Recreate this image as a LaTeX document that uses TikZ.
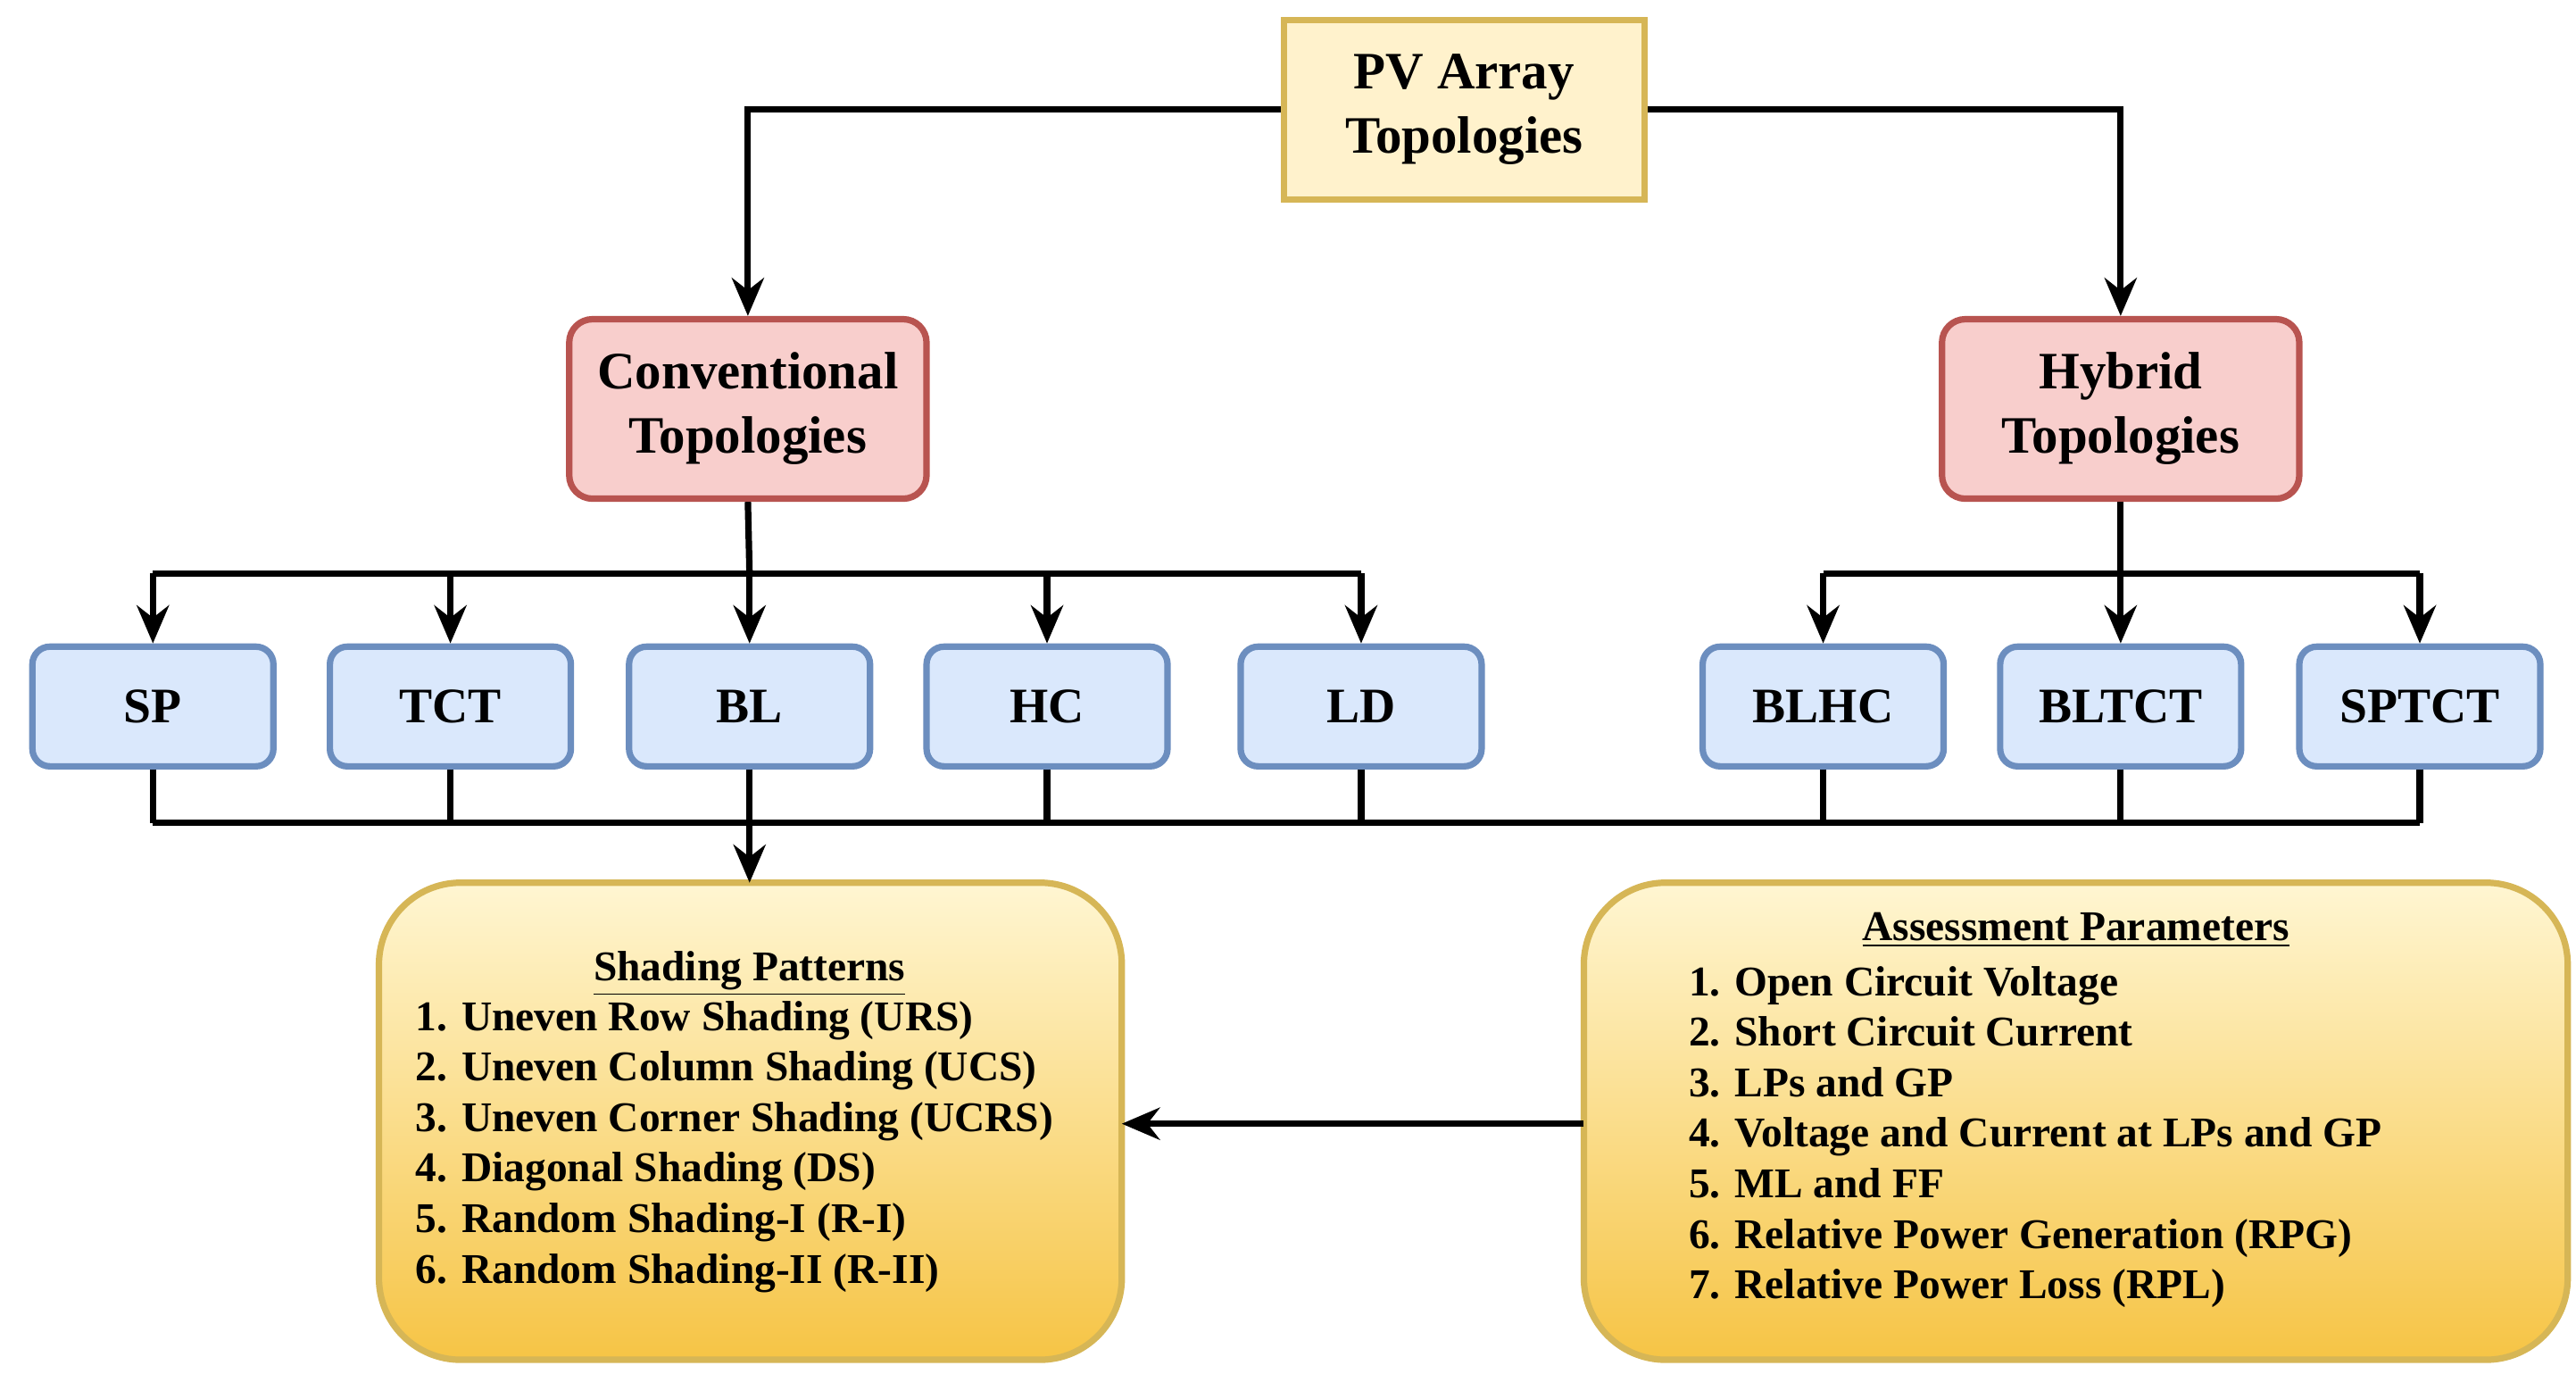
\documentclass[tikz,border=0pt]{standalone}
\usepackage{fontspec}
\setmainfont{Liberation Serif}
\usetikzlibrary{arrows.meta,shadings}
\definecolor{yf}{HTML}{FFF2CC}\definecolor{yd}{HTML}{D6B656}
\definecolor{rf}{HTML}{F8CECC}\definecolor{rd}{HTML}{B85450}
\definecolor{bf}{HTML}{DAE8FC}\definecolor{bd}{HTML}{6C8EBF}
\definecolor{gtop}{HTML}{FFF6D2}\definecolor{gbot}{HTML}{F6C445}
\begin{document}
\begin{tikzpicture}[x=0.02cm,y=-0.02cm,
  base/.style={draw,line width=2.2pt,align=center,font=\bfseries\fontsize{18}{22}\selectfont,inner sep=0pt},
  top/.style={base,fill=yf,draw=yd,minimum width=217*0.02cm,minimum height=108*0.02cm},
  mid/.style={base,fill=rf,draw=rd,rounded corners=8pt,minimum width=215*0.02cm,minimum height=108*0.02cm},
  leaf/.style={base,fill=bf,draw=bd,rounded corners=6pt,minimum width=145*0.02cm,minimum height=72*0.02cm,font=\bfseries\fontsize{17}{20}\selectfont},
  big/.style={draw=yd,line width=2.2pt,rounded corners=28pt,top color=gtop,bottom color=gbot,shading angle=0},
  txt/.style={align=left,font=\bfseries\fontsize{14.5}{17.3}\selectfont},
  ln/.style={line width=2.2pt,black},
  ar/.style={ln,-{Stealth[length=13pt,width=11pt]}}]
\useasboundingbox (0,0) rectangle (1550,826.5);
\node[top] (pv) at (881,66) {PV Array\\Topologies};
\node[mid] (conv) at (450,246) {Conventional\\Topologies};
\node[mid] (hyb) at (1276,246) {Hybrid\\Topologies};
\foreach \n/\t/\x in {sp/SP/92,tct/TCT/271,bl/BL/451,hc/HC/630,ld/LD/819,blhc/BLHC/1097,bltct/BLTCT/1276,sptct/SPTCT/1456}
  \node[leaf] (\n) at (\x,425) {\t};
\draw[big] (228,531) rectangle (675,818);
\draw[big] (953,531) rectangle (1545,818);
\node[txt,anchor=north,align=center] (sh) at (451,566) {\underline{Shading Patterns}};
\node[txt,anchor=north west] (shl) at (244,596) {1. Uneven Row Shading (URS)\\2. Uneven Column Shading (UCS)\\3. Uneven Corner Shading (UCRS)\\4. Diagonal Shading (DS)\\5. Random Shading-I (R-I)\\6. Random Shading-II (R-II)};
\node[txt,anchor=north,align=center] (as) at (1249,543) {\underline{Assessment Parameters}};
\node[txt,anchor=north west] (asl) at (1010,575) {1. Open Circuit Voltage\\2. Short Circuit Current\\3. LPs and GP\\4. Voltage and Current at LPs and GP\\5. ML and FF\\6. Relative Power Generation (RPG)\\7. Relative Power Loss (RPL)};
\coordinate (sbt) at (451,531);
\coordinate (sr) at (675,676);
\coordinate (al) at (953,676);
\draw[ar] (pv.west) -| (conv.north);
\draw[ar] (pv.east) -| (hyb.north);
\draw[ln] (conv.south) -- (451,345);
\draw[ln] (hyb.south) -- (1276,345);
\draw[ln] (92,345) -- (819,345);
\draw[ln] (1097,345) -- (1456,345);
\foreach \n in {sp,tct,bl,hc,ld} \draw[ar] (\n.north |- 0,345) -- (\n.north);
\foreach \n in {blhc,bltct,sptct} \draw[ar] (\n.north |- 0,345) -- (\n.north);
\foreach \n in {sp,tct,bl,hc,ld,blhc,bltct,sptct} \draw[ln] (\n.south) -- (\n.south |- 0,495);
\draw[ln] (92,495) -- (1456,495);
\draw[ar] (451,495) -- (sbt);
\draw[ar] (al) -- (sr);
\end{tikzpicture}
\end{document}
